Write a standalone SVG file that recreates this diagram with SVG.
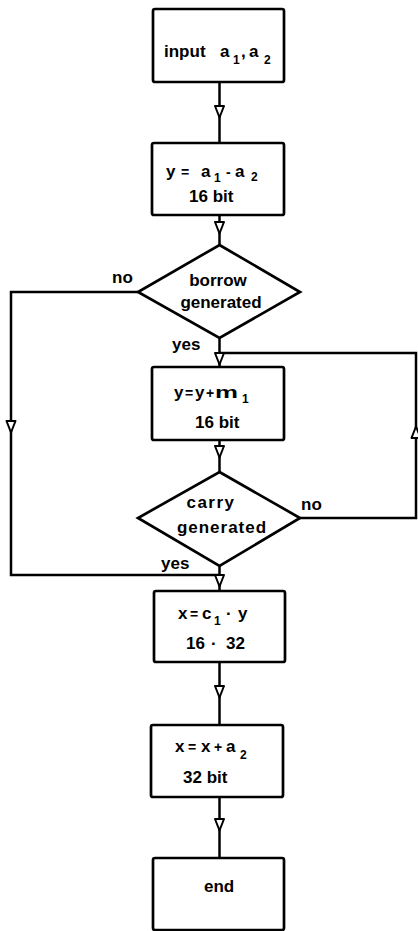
<svg xmlns="http://www.w3.org/2000/svg" xmlns:xlink="http://www.w3.org/1999/xlink" width="418" height="931" viewBox="0 0 418 931">
<style>
.box{fill:#fff;stroke:#000;stroke-width:2.7}
.ln{fill:none;stroke:#000;stroke-width:2.5}
.ah{fill:#fff;stroke:#000;stroke-width:2;stroke-linejoin:round}
text{font-family:"Liberation Sans",Arial,sans-serif;font-size:17px;font-weight:bold;fill:#000}
.sub{font-size:12px}
.op{font-size:14px}
</style>
<defs>
<path id="ahd" class="ah" d="M-4.5,-6 L4.5,-6 L0,5.5 Z"/>
</defs>
<rect width="418" height="931" fill="#fff"/>
<g id="connectors">
<line class="ln" x1="219.5" y1="82" x2="219.5" y2="143"/>
<line class="ln" x1="219.5" y1="215" x2="219.5" y2="245"/>
<line class="ln" x1="219.5" y1="338" x2="219.5" y2="367"/>
<polyline class="ln" points="138,292 11,292 11,575 219.5,575"/>
<line class="ln" x1="219.5" y1="440" x2="219.5" y2="472"/>
<polyline class="ln" points="300,518 416,518 416,353 219.5,353"/>
<line class="ln" x1="219.5" y1="566" x2="219.5" y2="591"/>
<line class="ln" x1="219.5" y1="662" x2="219.5" y2="725"/>
<line class="ln" x1="219.5" y1="797" x2="219.5" y2="858"/>
<use xlink:href="#ahd" transform="translate(219.5,112)"/>
<use xlink:href="#ahd" transform="translate(219.5,228)"/>
<use xlink:href="#ahd" transform="translate(219.5,359)"/>
<use xlink:href="#ahd" transform="translate(11,427)"/>
<use xlink:href="#ahd" transform="translate(416,432) rotate(180)"/>
<use xlink:href="#ahd" transform="translate(219.5,452)"/>
<use xlink:href="#ahd" transform="translate(219.5,581)"/>
<use xlink:href="#ahd" transform="translate(219.5,692)"/>
<use xlink:href="#ahd" transform="translate(219.5,825)"/>
<text x="112" y="283">no</text>
<text x="172" y="350">yes</text>
<text x="301" y="510">no</text>
<text x="161" y="569">yes</text>
</g>
<g id="input">
<rect class="box" x="153" y="9" width="131" height="73" rx="2"/>
<text x="164" y="57">input<tspan x="220">a</tspan><tspan class="sub" x="233" y="64">1</tspan><tspan x="241" y="57">,</tspan><tspan x="249">a</tspan><tspan class="sub" x="264" y="64">2</tspan></text>
</g>
<g id="sub">
<rect class="box" x="152" y="143" width="132" height="72" rx="2"/>
<text x="166" y="177">y<tspan class="op" x="181">=</tspan><tspan x="201">a</tspan><tspan class="sub" x="214" y="182">1</tspan><tspan class="op" x="226" y="177">-</tspan><tspan x="235">a</tspan><tspan class="sub" x="251" y="181">2</tspan></text>
<text x="189" y="202">16 bit</text>
</g>
<g id="borrow">
<polygon class="box" points="219.5,245 300,292 219.5,338 138,292"/>
<text x="218" y="286" text-anchor="middle">borrow</text>
<text x="221" y="308" text-anchor="middle">generated</text>
</g>
<g id="addm">
<rect class="box" x="152" y="367" width="132" height="73" rx="2"/>
<text x="174" y="398">y<tspan class="op" x="185">=</tspan><tspan x="195">y</tspan><tspan class="op" x="206">+</tspan><tspan x="215" textLength="23" lengthAdjust="spacingAndGlyphs">m</tspan><tspan class="sub" x="242" y="403">1</tspan></text>
<text x="195" y="428">16 bit</text>
</g>
<g id="carry">
<polygon class="box" points="219.5,472 300,518 219.5,566 138,518"/>
<text x="211" y="508" text-anchor="middle" letter-spacing="1.5">carry</text>
<text x="222" y="533" text-anchor="middle" letter-spacing="1">generated</text>
</g>
<g id="mul">
<rect class="box" x="154" y="591" width="131" height="71" rx="2"/>
<text x="178" y="619">x<tspan class="op" x="190">=</tspan><tspan x="202">c</tspan><tspan class="sub" x="214" y="625">1</tspan><tspan x="226" y="619">·</tspan><tspan x="238">y</tspan></text>
<text x="186" y="649">16<tspan x="211">·</tspan><tspan x="226">32</tspan></text>
</g>
<g id="addx">
<rect class="box" x="151" y="725" width="132" height="72" rx="2"/>
<text x="175" y="752">x<tspan class="op" x="188">=</tspan><tspan x="201">x</tspan><tspan class="op" x="214">+</tspan><tspan x="226">a</tspan><tspan class="sub" x="240" y="759">2</tspan></text>
<text x="183" y="783">32 bit</text>
</g>
<g id="end">
<rect class="box" x="153" y="858" width="131" height="72" rx="2"/>
<text x="204" y="892">end</text>
</g>
</svg>
